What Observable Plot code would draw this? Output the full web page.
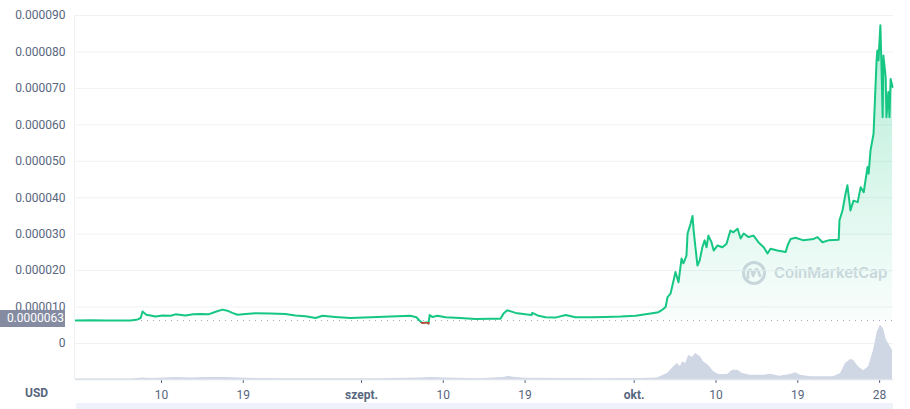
<!DOCTYPE html>
<html><head><meta charset="utf-8">
<script src="https://cdn.jsdelivr.net/npm/d3@7"></script>
<script src="https://cdn.jsdelivr.net/npm/@observablehq/plot@0.6"></script>
<style>
html,body{margin:0;padding:0;background:#fff;}
#wrap{position:relative;width:910px;height:409px;overflow:hidden;font-family:Roboto,"Noto Sans",sans-serif;}
#wrap svg{position:absolute;left:0;top:0;}
.lbl{position:absolute;font-family:Roboto,"Noto Sans",sans-serif;}
</style></head><body><div id="wrap"></div>
<script>
// ---- data (SHIB/USD, Jul 31 – Oct 29, 2021) ----
const priceDates = [
"2021-07-31 13","2021-08-02 05","2021-08-03 20","2021-08-05 12","2021-08-06 14","2021-08-07 09","2021-08-07 17","2021-08-07 22",
"2021-08-08 08","2021-08-08 19","2021-08-09 08","2021-08-10 03","2021-08-11 00","2021-08-11 13","2021-08-12 15","2021-08-13 12",
"2021-08-14 07","2021-08-15 04","2021-08-15 23","2021-08-16 17","2021-08-17 06","2021-08-17 19","2021-08-18 09","2021-08-19 06",
"2021-08-20 08","2021-08-22 00","2021-08-23 15","2021-08-24 18","2021-08-25 20","2021-08-26 23","2021-08-27 17","2021-08-29 03",
"2021-08-30 19","2021-09-02 00","2021-09-04 05","2021-09-06 09","2021-09-07 01","2021-09-07 09","2021-09-07 17","2021-09-08 04",
"2021-09-08 09","2021-09-08 12","2021-09-08 19","2021-09-09 09","2021-09-10 06","2021-09-11 21","2021-09-13 13","2021-09-15 05",
"2021-09-16 07","2021-09-16 15","2021-09-17 01","2021-09-17 23","2021-09-19 01","2021-09-19 17","2021-09-19 19","2021-09-20 09",
"2021-09-21 06","2021-09-22 08","2021-09-23 11","2021-09-24 13","2021-09-26 05","2021-09-27 20","2021-09-29 12","2021-10-01 04",
"2021-10-02 06","2021-10-03 00","2021-10-03 16","2021-10-04 03","2021-10-04 11","2021-10-04 16","2021-10-05 00","2021-10-05 08",
"2021-10-05 13","2021-10-05 21","2021-10-06 05","2021-10-06 10","2021-10-06 18","2021-10-06 21","2021-10-07 05","2021-10-07 10",
"2021-10-07 13","2021-10-07 21","2021-10-07 23","2021-10-08 05","2021-10-08 12","2021-10-08 18","2021-10-08 23","2021-10-09 04",
"2021-10-09 12","2021-10-09 18","2021-10-10 04","2021-10-10 17","2021-10-11 04","2021-10-11 09","2021-10-11 14","2021-10-11 22",
"2021-10-12 09","2021-10-12 17","2021-10-13 01","2021-10-13 14","2021-10-14 03","2021-10-14 16","2021-10-15 06","2021-10-15 16",
"2021-10-16 00","2021-10-16 18","2021-10-17 16","2021-10-17 21","2021-10-18 05","2021-10-18 18","2021-10-19 15","2021-10-20 18",
"2021-10-21 04","2021-10-21 17","2021-10-22 09","2021-10-23 12","2021-10-23 14","2021-10-23 22","2021-10-24 06","2021-10-24 11",
"2021-10-24 19","2021-10-25 03","2021-10-25 14","2021-10-25 22","2021-10-26 06","2021-10-26 16","2021-10-26 19","2021-10-27 00",
"2021-10-27 08","2021-10-27 16","2021-10-27 18","2021-10-27 21","2021-10-28 02","2021-10-28 05","2021-10-28 08","2021-10-28 10",
"2021-10-28 16","2021-10-28 18","2021-10-28 23","2021-10-29 02","2021-10-29 05","2021-10-29 10"
];
const priceValues = [
6.3e-6,6.35e-6,6.3e-6,6.3e-6,6.3e-6,6.6e-6,7.0e-6,8.8e-6,
7.9e-6,7.7e-6,7.4e-6,7.7e-6,7.6e-6,8.0e-6,7.7e-6,8.0e-6,
8.1e-6,8.0e-6,8.7e-6,9.3e-6,9.0e-6,8.4e-6,7.9e-6,8.1e-6,
8.3e-6,8.2e-6,8.1e-6,7.7e-6,7.5e-6,7.0e-6,7.6e-6,7.3e-6,
7.0e-6,7.2e-6,7.4e-6,7.6e-6,7.2e-6,6.3e-6,5.6e-6,5.8e-6,
5.5e-6,7.8e-6,7.3e-6,7.6e-6,7.2e-6,7.0e-6,6.7e-6,6.8e-6,
6.8e-6,8.2e-6,9.1e-6,8.4e-6,8.0e-6,7.8e-6,8.4e-6,7.7e-6,
7.2e-6,7.1e-6,7.8e-6,7.2e-6,7.2e-6,7.3e-6,7.4e-6,7.6e-6,
8.0e-6,8.3e-6,8.6e-6,9.3e-6,10.0e-6,12.7e-6,13.7e-6,17.3e-6,
19.6e-6,16.8e-6,23.3e-6,22.0e-6,24.1e-6,30.2e-6,32.9e-6,35.0e-6,
31.0e-6,23.3e-6,21.4e-6,22.8e-6,26.4e-6,28.3e-6,26.4e-6,29.6e-6,
27.8e-6,25.5e-6,26.9e-6,26.4e-6,27.4e-6,29.2e-6,31.0e-6,30.5e-6,
31.5e-6,28.8e-6,30.2e-6,29.2e-6,29.6e-6,27.8e-6,26.4e-6,24.7e-6,
26.0e-6,25.5e-6,25.1e-6,26.9e-6,28.7e-6,29.0e-6,28.3e-6,28.7e-6,
29.2e-6,27.8e-6,28.3e-6,28.5e-6,33.8e-6,36.5e-6,41.1e-6,43.4e-6,
36.5e-6,39.2e-6,38.8e-6,42.9e-6,41.5e-6,48.4e-6,46.6e-6,53.0e-6,
57.6e-6,77.7e-6,80.4e-6,77.7e-6,87.3e-6,75.8e-6,62.1e-6,79.0e-6,
73.1e-6,62.1e-6,69.0e-6,62.1e-6,72.6e-6,70.4e-6
];
// volume (relative units)
const volumeDates = [
"2021-07-31 13","2021-08-06 14","2021-08-07 09","2021-08-07 22","2021-08-08 19","2021-08-10 11","2021-08-11 13","2021-08-13 05",
"2021-08-14 20","2021-08-17 01","2021-08-19 06","2021-08-23 02","2021-08-27 12","2021-09-03 02","2021-09-07 12","2021-09-08 14",
"2021-09-10 06","2021-09-14 00","2021-09-16 15","2021-09-17 04","2021-09-17 23","2021-09-19 01","2021-09-22 21","2021-09-27 07",
"2021-10-01 17","2021-10-03 13","2021-10-04 16","2021-10-05 08","2021-10-05 18","2021-10-06 02","2021-10-06 08","2021-10-06 16",
"2021-10-07 00","2021-10-07 10","2021-10-07 18","2021-10-08 02","2021-10-08 07","2021-10-08 15","2021-10-09 04","2021-10-09 18",
"2021-10-10 07","2021-10-11 06","2021-10-11 20","2021-10-12 09","2021-10-12 22","2021-10-13 19","2021-10-15 06","2021-10-16 00",
"2021-10-17 00","2021-10-18 05","2021-10-18 18","2021-10-19 07","2021-10-20 10","2021-10-22 22","2021-10-23 17","2021-10-24 06",
"2021-10-24 19","2021-10-25 03","2021-10-25 16","2021-10-26 06","2021-10-26 19","2021-10-27 08","2021-10-27 18","2021-10-28 02",
"2021-10-28 10","2021-10-28 18","2021-10-29 02","2021-10-29 10"
];
const volumeValues = [
0.5,0.5,1,1.5,1,1.5,2,1.5,
2,2,1.2,0.8,0.7,0.7,1.5,2,
1.5,0.8,2,3,2,1.2,1,0.8,
1,1.5,6,12.6,16,13,17.7,16,
24.3,22,26,24,22.7,17.7,14.3,7.7,
5,5,9.3,9.3,6,4.3,4.3,5.3,
3.3,5,6.7,4.3,2.7,2.7,6,16,
20,19.3,12.7,8.7,12.7,29.3,47.7,54.3,
51,39.3,34.3,29.3
];
const yTicks = [0,1e-5,2e-5,3e-5,4e-5,5e-5,6e-5,7e-5,8e-5,9e-5];
const tickDates = ["2021-08-10 00","2021-08-19 00","2021-09-01 00","2021-09-10 00","2021-09-19 00","2021-10-01 00","2021-10-10 00","2021-10-19 00","2021-10-28 00"];
const tickLabels = ["10","19","szept.","10","19","okt.","10","19","28"];
const monthLabels = ["szept.","okt."];
const currency = "USD";
const watermark = "CoinMarketCap";

// ---- build ----
const parse = d3.utcParse("%Y-%m-%d %H");
const price = priceDates.map((d,i)=>({date: parse(d), value: priceValues[i]}));
const vol = volumeDates.map((d,i)=>({date: parse(d), value: volumeValues[i]}));
const xDomain = [price[0].date, price[price.length-1].date];
const baseline = priceValues[0];
const tickMap = new Map(tickDates.map((d,i)=>[+parse(d), tickLabels[i]]));

const GREEN = "#16c784", RED = "#c4473f", TXT = "#58667e";
const FONT = "Roboto, 'Noto Sans', sans-serif";

const main = Plot.plot({
  width: 910, height: 409,
  marginLeft: 75, marginRight: 17, marginTop: 15, marginBottom: 30,
  style: {background: "transparent", fontFamily: FONT, fontSize: "12px", color: TXT, overflow: "visible"},
  x: {type: "utc", domain: xDomain, range: [75, 892], ticks: tickDates.map(parse),
      tickFormat: d => tickMap.get(+d) ?? "", tickSize: 4, tickPadding: 7, label: null},
  y: {domain: [0, 9e-5], range: [343, 15], ticks: yTicks,
      tickFormat: d => d === 0 ? "0" : d.toFixed(6), tickSize: 0, tickPadding: 10, label: null},
  marks: [
    Plot.ruleY(yTicks, {stroke: "#eff2f5", strokeWidth: 1}),
    Plot.area(price, {x1: "date", y1: () => baseline, y2: "value", fill: "url(#cmcGrad)"}),
    Plot.ruleY([baseline], {stroke: "#a1a7bb", strokeDasharray: "1,5", strokeWidth: 1}),
    Plot.line(price, {x: "date", y: "value", stroke: GREEN, strokeWidth: 2}),
    Plot.line(price, {x: "date", y: "value", stroke: RED, strokeWidth: 2})
  ]
});

const vchart = Plot.plot({
  width: 910, height: 409,
  marginLeft: 75, marginRight: 17, marginTop: 0, marginBottom: 30,
  style: {background: "transparent"},
  x: {type: "utc", domain: xDomain, range: [75, 892], axis: null},
  y: {domain: [0, 60], range: [379, 319], axis: null},
  marks: [
    Plot.areaY(vol, {x: "date", y: "value", fill: "#cfd6e4"}),
    Plot.ruleY([0], {stroke: "#dfe3ea", strokeWidth: 1.5})
  ]
});

const wrap = document.getElementById("wrap");
wrap.appendChild(main);
wrap.appendChild(vchart);

const yS = v => main.scale("y").apply(v);
const xS = v => main.scale("x").apply(v);
const yV = v => vchart.scale("y").apply(v);
const yb = yS(baseline);

// gradient + watermark behind marks
const svg = d3.select(main);
const defs = svg.insert("defs", ":first-child");
const g = defs.append("linearGradient").attr("id","cmcGrad").attr("x1",0).attr("y1",0).attr("x2",0).attr("y2",1);
g.append("stop").attr("offset","0%").attr("stop-color",GREEN).attr("stop-opacity",0.32);
g.append("stop").attr("offset","100%").attr("stop-color",GREEN).attr("stop-opacity",0.02);
defs.append("clipPath").attr("id","belowClip").append("rect")
  .attr("x",0).attr("y",yb + 1.5).attr("width",910).attr("height",409-yb);

const wm = svg.insert("g", "defs + *").attr("fill","none").attr("text-anchor","start");
const wx = 754, wy = 273;
wm.append("circle").attr("cx",wx).attr("cy",wy).attr("r",10.5).attr("stroke","#d4d8e1").attr("stroke-width",3);
wm.append("path").attr("d",`M${wx-6},${wy+5} L${wx-6},${wy-1} Q${wx-4},${wy-6} ${wx-2},${wy-1} L${wx-1},${wy+3} L${wx+1},${wy-2} Q${wx+3},${wy-6} ${wx+5},${wy} L${wx+6},${wy+3}`)
  .attr("stroke","#d4d8e1").attr("stroke-width",2.6).attr("stroke-linecap","round").attr("stroke-linejoin","round");
wm.append("text").attr("x",774).attr("y",wy).attr("dy","0.35em").attr("fill","#d4d8e1").attr("text-anchor","start")
  .attr("font-size",15).attr("font-weight",600).attr("font-family","Inter, 'Noto Sans', sans-serif").text(watermark);

// red below reference price
svg.selectAll(`[stroke="${RED}"]`).attr("clip-path","url(#belowClip)");

// bold month labels
svg.selectAll("text").filter(function(){ return monthLabels.includes(this.textContent); })
  .attr("font-weight", 700);

// left axis line
d3.select(vchart).append("line").attr("x1",xS(xDomain[0])-0.5).attr("x2",xS(xDomain[0])-0.5)
  .attr("y1",yS(9e-5)).attr("y2",yV(0)).attr("stroke","#eff2f5");

// reference price label
const box = document.createElement("div");
box.className = "lbl";
box.style.cssText = `left:0;top:${yb-10}px;width:65px;height:17px;background:#858ca2;color:#fff;font-size:12px;line-height:17px;text-align:right;box-sizing:border-box;padding-right:1px;`;
box.textContent = d3.format(".7f")(baseline);
wrap.appendChild(box);

// currency label
const usd = document.createElement("div");
usd.className = "lbl";
usd.style.cssText = `left:25px;top:386px;font-size:12px;font-weight:700;color:${TXT};`;
usd.textContent = currency;
wrap.appendChild(usd);

// navigator strip
const nav = document.createElement("div");
nav.className = "lbl";
nav.style.cssText = `left:76px;top:403px;width:817px;height:6px;background:#eff2fb;`;
wrap.appendChild(nav);
</script>
</body></html>
